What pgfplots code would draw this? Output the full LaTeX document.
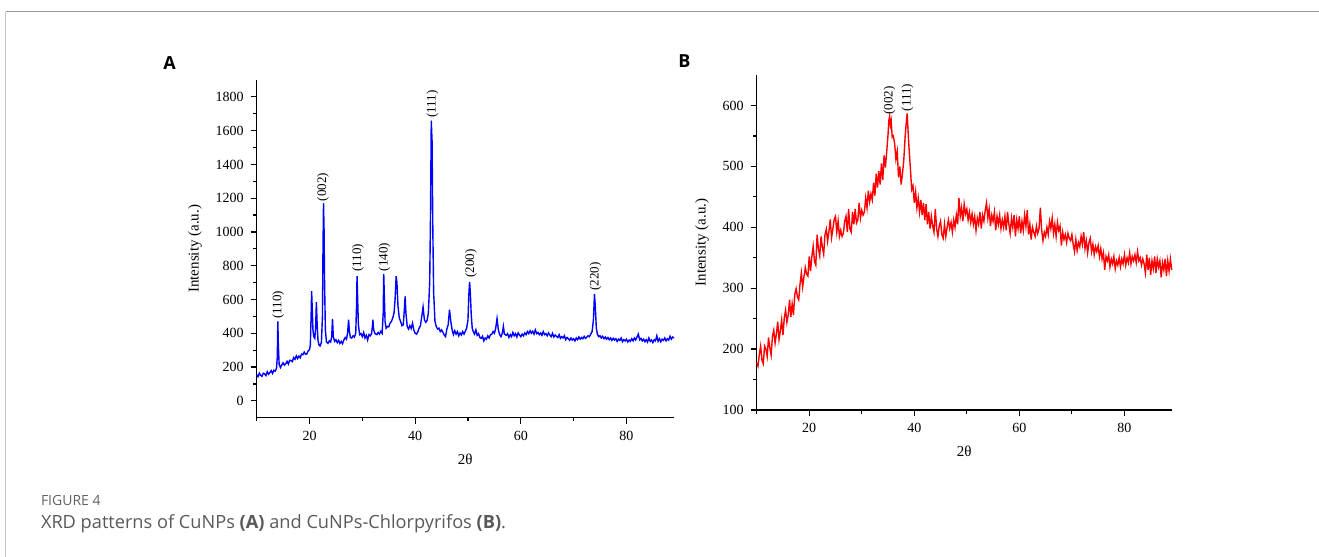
\documentclass[border=0pt]{standalone}
\usepackage{fontspec}
\setmainfont{Liberation Serif}
\newfontfamily\capfont{Open Sans}
\usepackage{pgfplots}
\usepackage{pgfplotstable}
\pgfplotsset{compat=1.18}

% CuNPs
\pgfplotstableread{
x y
10.00 155
10.25 143
10.50 164
10.75 151
11.00 145
11.25 163
11.50 159
11.75 149
12.00 172
12.25 157
12.50 167
12.75 179
13.00 162
13.25 181
13.50 176
13.75 192
13.90 260
14.00 470
14.10 330
14.25 215
14.50 197
14.75 213
15.00 225
15.25 211
15.50 220
15.75 234
16.00 218
16.25 240
16.50 239
16.75 232
17.00 256
17.25 246
17.50 266
17.75 250
18.00 265
18.25 255
18.50 277
18.75 273
19.00 289
19.25 276
19.50 278
19.75 296
20.00 303
20.15 330
20.30 500
20.40 650
20.50 560
20.65 420
20.80 380
21.00 370
21.15 430
21.30 585
21.45 450
21.60 360
21.80 330
22.00 325
22.25 345
22.45 500
22.55 900
22.65 1170
22.75 1020
22.85 700
23.00 420
23.20 350
23.50 340
23.75 355
24.00 348
24.20 380
24.35 485
24.50 380
24.75 352
25.00 362
25.25 345
25.50 358
25.75 340
26.00 352
26.25 338
26.50 360
26.75 375
27.00 365
27.20 400
27.40 480
27.55 410
27.75 375
28.00 372
28.25 385
28.50 378
28.75 400
28.90 560
29.00 738
29.10 620
29.25 450
29.50 392
29.75 398
30.00 380
30.25 405
30.50 372
30.75 388
31.00 360
31.25 392
31.50 385
31.75 398
31.90 440
32.00 480
32.15 420
32.40 398
32.75 392
33.00 405
33.25 395
33.50 412
33.75 400
33.95 520
34.05 752
34.15 640
34.30 470
34.50 430
34.75 440
35.00 438
35.25 460
35.50 470
35.75 490
36.00 520
36.20 600
36.40 738
36.55 700
36.75 560
37.00 490
37.25 470
37.50 445
37.75 450
37.95 540
38.10 619
38.25 520
38.50 440
38.75 425
39.00 445
39.25 428
39.50 460
39.75 420
40.00 400
40.25 395
40.50 408
40.75 430
41.00 445
41.25 500
41.50 555
41.75 480
42.00 465
42.25 475
42.50 520
42.75 700
42.90 1080
43.05 1660
43.20 1540
43.35 1000
43.50 640
43.75 470
44.00 440
44.25 425
44.50 430
44.75 410
45.00 420
45.25 405
45.50 390
45.75 380
46.00 425
46.25 450
46.50 540
46.75 470
47.00 420
47.25 392
47.50 415
47.75 395
48.00 410
48.25 385
48.50 402
48.75 390
49.00 410
49.25 395
49.50 412
49.75 430
50.00 480
50.15 620
50.30 704
50.45 640
50.60 520
50.80 430
51.00 410
51.25 395
51.50 420
51.75 388
52.00 398
52.25 375
52.50 370
52.75 382
53.00 355
53.25 372
53.50 365
53.75 385
54.00 372
54.25 390
54.50 395
54.75 410
55.00 400
55.25 430
55.50 487
55.75 420
56.00 392
56.25 380
56.50 400
56.70 441
56.90 395
57.25 388
57.50 398
57.75 375
58.00 392
58.25 380
58.50 405
58.75 385
59.00 398
59.25 378
59.50 402
59.75 390
60.00 380
60.25 395
60.50 385
60.75 402
61.00 392
61.25 410
61.50 398
61.75 415
62.00 400
62.25 412
62.50 395
62.75 420
63.00 398
63.25 405
63.50 392
63.75 402
64.00 388
64.25 410
64.50 392
64.75 398
65.00 385
65.25 402
65.50 390
65.75 380
66.00 400
66.25 378
66.50 390
66.75 382
67.00 375
67.25 392
67.50 370
67.75 380
68.00 372
68.25 385
68.50 362
68.75 375
69.00 368
69.25 358
69.50 372
69.75 360
70.00 368
70.25 355
70.50 372
70.75 362
71.00 378
71.25 365
71.50 375
71.75 368
72.00 382
72.25 370
72.50 378
72.75 385
73.00 380
73.25 395
73.50 410
73.75 480
73.95 633
74.10 560
74.30 430
74.50 395
74.75 380
75.00 385
75.25 372
75.50 382
75.75 368
76.00 378
76.25 365
76.50 375
76.75 362
77.00 372
77.25 358
77.50 370
77.75 360
78.00 368
78.25 352
78.50 365
78.75 358
79.00 372
79.25 350
79.50 362
79.75 355
80.00 365
80.25 348
80.50 360
80.75 352
81.00 368
81.25 355
81.50 372
81.75 360
82.00 378
82.25 395
82.50 362
82.75 370
83.00 355
83.25 365
83.50 350
83.75 362
84.00 348
84.25 372
84.50 352
84.75 360
85.00 345
85.25 362
85.50 355
85.75 385
86.00 352
86.25 368
86.50 350
86.75 365
87.00 358
87.25 372
87.50 355
87.75 368
88.00 360
88.25 382
88.50 365
88.75 378
89.00 372
}\dataA

% CuNPs-Chlorpyrifos
\pgfplotstableread{
x y
10.00 178
10.25 172
10.50 191
10.75 205
11.00 182
11.25 176
11.50 205
11.75 200
12.00 188
12.25 219
12.50 202
12.75 190
13.00 221
13.25 231
13.50 210
13.75 225
14.00 245
14.25 216
14.50 230
14.75 248
15.00 223
15.25 251
15.50 264
15.75 244
16.00 256
16.25 281
16.50 253
16.75 274
17.00 256
17.25 290
17.50 299
17.75 286
18.00 281
18.25 307
18.50 325
18.75 302
19.00 319
19.25 334
19.50 323
19.75 320
20.00 352
20.25 328
20.50 352
20.75 369
21.00 344
21.25 338
21.50 388
21.75 365
22.00 353
22.25 385
22.50 367
22.75 356
23.00 388
23.25 397
23.50 377
23.75 393
24.00 413
24.25 383
24.50 397
24.75 413
25.00 418
25.25 392
25.50 410
25.75 385
26.00 395
26.25 385
26.50 390
26.75 410
27.00 418
27.25 392
27.50 430
27.75 397
28.00 392
28.25 425
28.50 405
28.75 430
29.00 407
29.25 412
29.50 440
29.75 415
30.00 428
30.25 420
30.50 425
30.75 448
31.00 432
31.25 460
31.50 442
31.75 455
32.00 445
32.25 473
32.50 452
32.75 488
33.00 465
33.25 492
33.50 470
33.75 505
34.00 478
34.25 518
34.50 498
34.75 524
35.00 552
35.15 575
35.30 582
35.45 568
35.60 575
35.80 548
36.00 550
36.25 538
36.50 512
36.75 525
37.00 482
37.25 500
37.50 470
37.75 488
38.00 510
38.25 548
38.50 575
38.65 587
38.80 560
39.00 530
39.25 498
39.50 462
39.75 468
40.00 440
40.25 458
40.50 432
40.75 448
41.00 425
41.25 445
41.50 420
41.75 440
42.00 412
42.25 438
42.50 405
42.75 425
43.00 398
43.25 418
43.50 402
43.75 392
44.00 430
44.25 398
44.50 385
44.75 402
45.00 410
45.25 388
45.50 382
45.75 405
46.00 385
46.25 400
46.50 412
46.75 398
47.00 408
47.25 392
47.50 412
47.75 400
48.00 420
48.25 405
48.50 448
48.75 418
49.00 432
49.25 410
49.50 438
49.75 422
50.00 430
50.25 412
50.50 425
50.75 408
51.00 422
51.25 405
51.50 418
51.75 395
52.00 415
52.25 405
52.50 425
52.75 398
53.00 420
53.25 410
53.50 428
53.75 440
54.00 415
54.25 430
54.50 402
54.75 420
55.00 410
55.25 425
55.50 395
55.75 418
56.00 405
56.25 420
56.50 398
56.75 412
57.00 400
57.25 418
57.50 395
57.75 425
58.00 405
58.25 390
58.50 415
58.75 400
59.00 420
59.25 385
59.50 412
59.75 398
60.00 418
60.25 390
60.50 410
60.75 395
61.00 420
61.25 402
61.50 428
61.75 388
62.00 405
62.25 380
62.50 400
62.75 392
63.00 385
63.25 402
63.50 390
63.75 398
64.00 432
64.25 395
64.50 378
64.75 392
65.00 385
65.25 400
65.50 388
65.75 410
66.00 398
66.25 415
66.50 390
66.75 405
67.00 385
67.25 408
67.50 395
67.75 402
68.00 370
68.25 392
68.50 380
68.75 388
69.00 375
69.25 390
69.50 382
69.75 378
70.00 388
70.25 372
70.50 360
70.75 380
71.00 362
71.25 375
71.50 368
71.75 385
72.00 372
72.25 392
72.50 365
72.75 378
73.00 358
73.25 375
73.50 382
73.75 360
74.00 372
74.25 355
74.50 368
74.75 360
75.00 370
75.25 352
75.50 365
75.75 348
76.00 358
76.25 330
76.50 352
76.75 345
77.00 355
77.25 335
77.50 348
77.75 340
78.00 352
78.25 332
78.50 345
78.75 338
79.00 350
79.25 335
79.50 348
79.75 340
80.00 355
80.25 338
80.50 350
80.75 342
81.00 358
81.25 340
81.50 352
81.75 345
82.00 355
82.25 342
82.50 360
82.75 345
83.00 350
83.25 338
83.50 348
83.75 340
84.00 325
84.25 355
84.50 330
84.75 350
85.00 322
85.25 345
85.50 332
85.75 352
86.00 325
86.25 348
86.50 335
86.75 345
87.00 318
87.25 342
87.50 330
87.75 348
88.00 320
88.25 345
88.50 328
88.75 348
89.00 330
}\dataB

\pgfplotsset{
  xrd/.style={
    scale only axis,
    anchor=south west,
    axis x line*=bottom,
    axis y line*=left,
    axis line style={line width=0.65pt, black},
    tick style={line width=0.6pt, black},
    tick align=outside,
    major tick length=3pt,
    minor tick length=1.8pt,
    xmin=10, xmax=89,
    xtick={20,40,60,80},
    minor xtick={10,30,50,70},
    minor y tick num=1,
    tick label style={font=\fontsize{7}{8}\selectfont},
    label style={font=\fontsize{7.5}{9}\selectfont},
    /pgf/number format/assume math mode=true,
    /pgf/number format/1000 sep={},
    scaled y ticks=false,
    xlabel={2θ},
    ylabel={Intensity (a.u.)},
    clip=false,
  },
}
\tikzset{peak/.style={rotate=90, anchor=west, inner sep=0.6pt, font=\fontsize{6.5}{7}\selectfont}}

\begin{document}
\begin{tikzpicture}
\path[use as bounding box] (0pt,0pt) rectangle (659.5pt,278.5pt);
\draw[black!40, line width=0.5pt] (2.75pt,272.5pt) -- (659.5pt,272.5pt);
\draw[black!22, line width=0.65pt] (2.75pt,272.5pt) -- (2.75pt,0pt);

\begin{axis}[xrd, at={(128.35pt,69.65pt)}, width=208.65pt, height=168.85pt,
  ymin=-100, ymax=1900, ytick={0,200,...,1800}]
\addplot[color={rgb,255:red,0;green,0;blue,255}, line width=0.7pt] table[x=x, y=y] {\dataA};
\node[peak] at (axis cs:14.08,478) {(110)};
\node[peak] at (axis cs:22.57,1172) {(002)};
\node[peak] at (axis cs:29.2,755) {(110)};
\node[peak] at (axis cs:34.2,758) {(140)};
\node[peak] at (axis cs:43.3,1668) {(111)};
\node[peak] at (axis cs:50.56,720) {(200)};
\node[peak] at (axis cs:74.15,642) {(220)};
\end{axis}

\begin{axis}[xrd, at={(378.35pt,73.5pt)}, width=207.5pt, height=167.5pt,
  ymin=100, ymax=650, ytick={100,200,...,600}]
\addplot[color={rgb,255:red,255;green,0;blue,0}, line width=0.7pt] table[x=x, y=y] {\dataB};
\node[peak] at (axis cs:35.26,582) {(002)};
\node[peak] at (axis cs:38.7,588) {(111)};
\end{axis}

\node[anchor=base west, inner sep=0, font=\capfont\bfseries\fontsize{9}{10}\selectfont] at (81.5pt,243.5pt) {A};
\node[anchor=base west, inner sep=0, font=\capfont\bfseries\fontsize{9}{10}\selectfont] at (339pt,244.5pt) {B};

\node[anchor=base west, inner sep=0, text=black!62, font=\capfont\fontsize{7}{8}\selectfont] at (20.3pt,25.65pt) {FIGURE 4};
\node[anchor=base west, inner sep=0, text=black!65, font=\capfont\fontsize{9.1}{10}\selectfont] at (20.3pt,14pt) {XRD patterns of CuNPs {\bfseries(A)} and CuNPs-Chlorpyrifos {\bfseries(B)}.};
\end{tikzpicture}
\end{document}
